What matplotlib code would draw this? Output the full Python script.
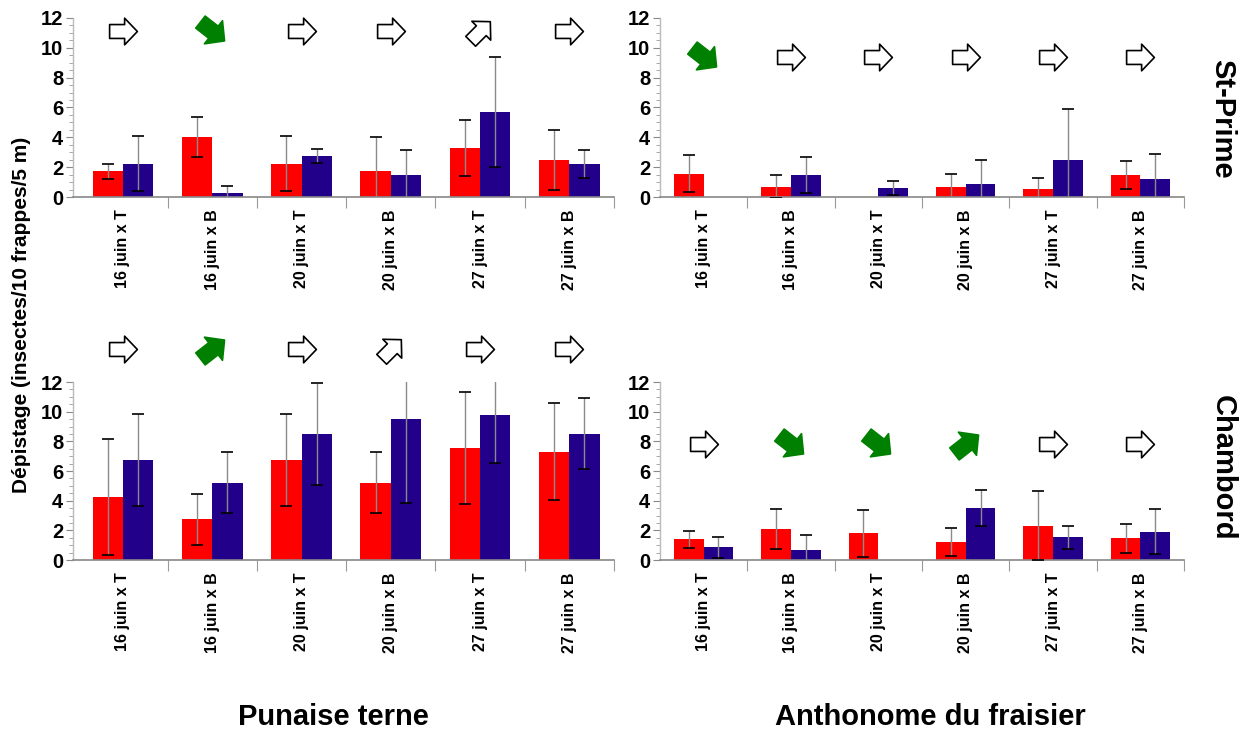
import numpy as np
import matplotlib.pyplot as plt
from matplotlib.markers import MarkerStyle
from matplotlib.path import Path
from matplotlib.transforms import Affine2D
from matplotlib.ticker import MultipleLocator

plt.rcParams['font.family'] = ['Liberation Sans', 'DejaVu Sans']
plt.rcParams['font.weight'] = 'bold'

categories = ["16 juin x T", "16 juin x B", "20 juin x T",
              "20 juin x B", "27 juin x T", "27 juin x B"]

# Punaise terne, St-Prime
pt_sp_red = [1.72, 4.02, 2.23, 1.72, 3.28, 2.50]
pt_sp_red_err = [0.50, 1.35, 1.85, 2.30, 1.85, 2.00]
pt_sp_blue = [2.23, 0.25, 2.75, 1.47, 5.69, 2.23]
pt_sp_blue_err = [1.85, 0.50, 0.50, 1.70, 3.70, 0.93]
pt_sp_arrows = ['flat', 'down', 'flat', 'flat', 'up_open', 'flat']

# Anthonome du fraisier, St-Prime
af_sp_red = [1.56, 0.69, 0.02, 0.69, 0.51, 1.47]
af_sp_red_err = [1.25, 0.76, 0.0, 0.87, 0.76, 0.96]
af_sp_blue = [0.02, 1.47, 0.60, 0.87, 2.48, 1.20]
af_sp_blue_err = [0.0, 1.19, 0.46, 1.59, 3.41, 1.68]
af_sp_arrows = ['down', 'flat', 'flat', 'flat', 'flat', 'flat']

# Punaise terne, Chambord
pt_ch_red = [4.22, 2.74, 6.77, 5.22, 7.56, 7.29]
pt_ch_red_err = [3.91, 1.70, 3.10, 2.05, 3.78, 3.27]
pt_ch_blue = [6.77, 5.22, 8.52, 9.51, 9.75, 8.52]
pt_ch_blue_err = [3.10, 2.03, 3.43, 5.68, 3.18, 2.38]
pt_ch_arrows = ['flat', 'up', 'flat', 'up_open', 'flat', 'flat']

# Anthonome du fraisier, Chambord
af_ch_red = [1.39, 2.06, 1.79, 1.21, 2.31, 1.46]
af_ch_red_err = [0.56, 1.35, 1.60, 0.92, 2.31, 1.00]
af_ch_blue = [0.85, 0.70, 0.02, 3.50, 1.52, 1.91]
af_ch_blue_err = [0.70, 0.98, 0.0, 1.23, 0.77, 1.52]
af_ch_arrows = ['flat', 'down', 'down', 'up', 'flat', 'flat']

RED = '#ff0000'
BLUE = '#22008a'
GREEN = '#008000'

arrow_verts = [(-1, -0.5), (0.08, -0.5), (0.08, -0.96), (1, 0),
               (0.08, 0.96), (0.08, 0.5), (-1, 0.5), (-1, -0.5)]
arrow_path = Path(arrow_verts, closed=True)


def arrow_marker(kind):
    if kind == 'flat':
        return MarkerStyle(arrow_path), 'white'
    if kind == 'down':
        return MarkerStyle(arrow_path, transform=Affine2D().rotate_deg(-38)), GREEN
    if kind == 'up':
        return MarkerStyle(arrow_path, transform=Affine2D().rotate_deg(38)), GREEN
    return MarkerStyle(arrow_path, transform=Affine2D().rotate_deg(45)), 'white'


def panel(ax, red, red_err, blue, blue_err, arrows, arrow_y, xlim_left):
    x = np.arange(len(categories))
    w = 0.34
    ax.bar(x - w / 2, red, w, color=RED, zorder=2)
    ax.bar(x + w / 2, blue, w, color=BLUE, zorder=2)
    for xs, vals, errs in [(x - w / 2, red, red_err), (x + w / 2, blue, blue_err)]:
        keep = np.array(errs) > 0
        _, caps, lines = ax.errorbar(xs[keep], np.array(vals)[keep],
                                     yerr=np.array(errs)[keep], fmt='none',
                                     ecolor='#8a8a8a', elinewidth=1, capsize=4.5,
                                     capthick=1.2, zorder=3)
        for c in caps:
            c.set_markeredgecolor('black')

    for xi, kind in zip(x, arrows):
        m, fc = arrow_marker(kind)
        ec = 'black' if fc == 'white' else GREEN
        size = 20 if fc == 'white' else 22
        ax.plot([xi], [arrow_y], marker=m, markersize=size, markerfacecolor=fc,
                markeredgecolor=ec, markeredgewidth=1.2, linestyle='none',
                clip_on=False, zorder=4)

    ax.set_xlim(xlim_left, 5.5)
    ax.set_ylim(0, 12)
    ax.set_yticks(range(0, 13, 2))
    ax.yaxis.set_minor_locator(MultipleLocator(0.5))
    ax.tick_params(axis='y', which='major', labelsize=14.5, length=5, color='#888888', pad=2)
    ax.tick_params(axis='y', which='minor', length=3, color='#999999')
    for lab in ax.get_yticklabels():
        lab.set_fontweight('bold')

    ax.set_xticks(x + 0.5)
    ax.set_xticklabels([])
    ax.tick_params(axis='x', which='major', length=8, color='#999999', direction='out')
    for xi, cat in zip(x, categories):
        ax.text(xi, -0.85, cat, rotation=90, ha='center', va='top', fontsize=11.5,
                fontweight='bold')

    for s in ['top', 'right']:
        ax.spines[s].set_visible(False)
    ax.spines['left'].set_color('#bbbbbb')
    ax.spines['bottom'].set_color('#888888')
    ax.spines['left'].set_linewidth(1)
    ax.spines['bottom'].set_linewidth(1.2)


fig = plt.figure(figsize=(12.54, 7.31), dpi=100)

ax_tl = fig.add_axes([0.0582, 0.7305, 0.4314, 0.2449])
ax_tr = fig.add_axes([0.5263, 0.7305, 0.4179, 0.2449])
ax_bl = fig.add_axes([0.0582, 0.2339, 0.4314, 0.2435])
ax_br = fig.add_axes([0.5263, 0.2339, 0.4179, 0.2435])

panel(ax_tl, pt_sp_red, pt_sp_red_err, pt_sp_blue, pt_sp_blue_err, pt_sp_arrows, 11.1, -0.56)
panel(ax_tr, af_sp_red, af_sp_red_err, af_sp_blue, af_sp_blue_err, af_sp_arrows, 9.4, -0.5)
panel(ax_bl, pt_ch_red, pt_ch_red_err, pt_ch_blue, pt_ch_blue_err, pt_ch_arrows, 14.2, -0.56)
panel(ax_br, af_ch_red, af_ch_red_err, af_ch_blue, af_ch_blue_err, af_ch_arrows, 7.8, -0.5)

fig.text(0.0175, 0.569, "Dépistage (insectes/10 frappes/5 m)", rotation=90,
         ha='center', va='center', fontsize=15, fontweight='bold')
fig.text(0.266, 0.019, "Punaise terne", ha='center', va='center', fontsize=21,
         fontweight='bold')
fig.text(0.742, 0.019, "Anthonome du fraisier", ha='center', va='center', fontsize=21,
         fontweight='bold')
fig.text(0.975, 0.837, "St-Prime", rotation=270, ha='center', va='center',
         fontsize=21, fontweight='bold')
fig.text(0.975, 0.36, "Chambord", rotation=270, ha='center', va='center',
         fontsize=21, fontweight='bold')

fig.savefig("out.png", dpi=100)
